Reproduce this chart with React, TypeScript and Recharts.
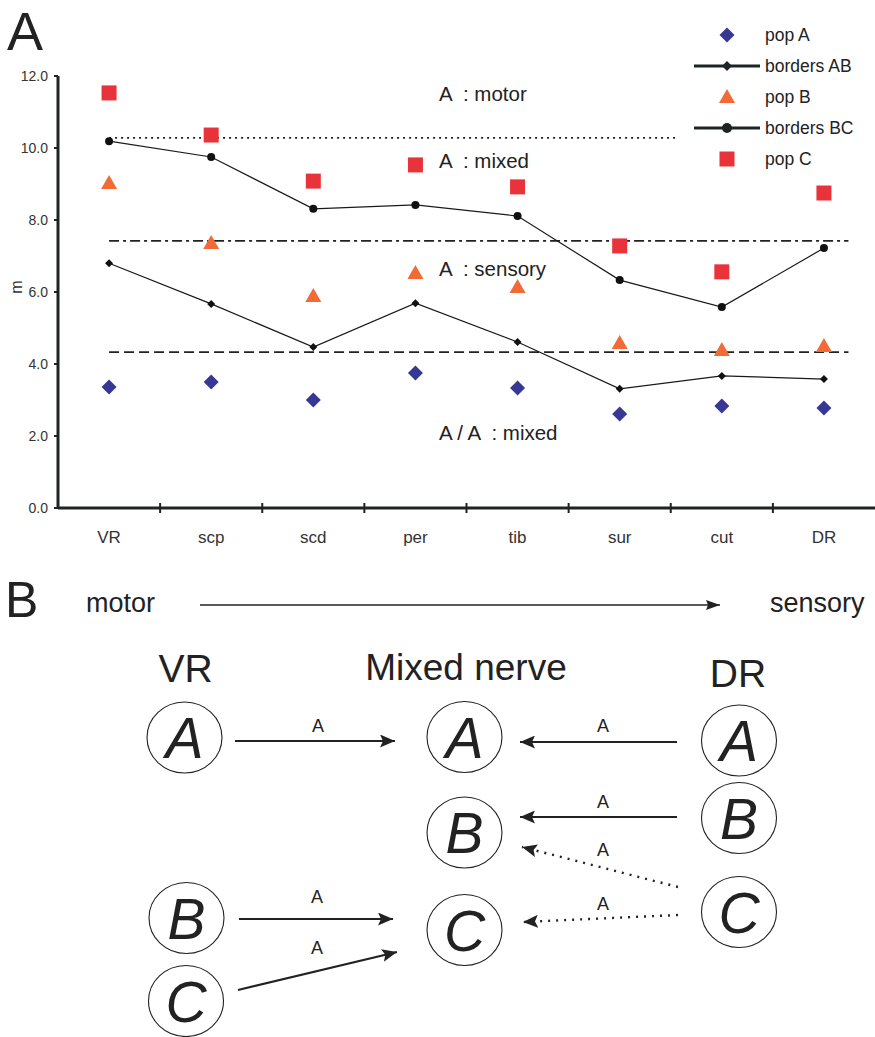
import React from "react";
import { ComposedChart, Line, Scatter, XAxis, YAxis, ReferenceLine } from "recharts";

// ---------- Panel A data ----------
const CATEGORIES = ["VR", "scp", "scd", "per", "tib", "sur", "cut", "DR"];
const POP_A = [3.36, 3.5, 3.0, 3.75, 3.33, 2.61, 2.83, 2.78];
const POP_B = [9.03, 7.36, 5.89, 6.53, 6.14, 4.58, 4.39, 4.5];
const POP_C = [11.53, 10.36, 9.08, 9.53, 8.92, 7.28, 6.56, 8.75];
const BORDERS_AB = [6.8, 5.67, 4.47, 5.69, 4.61, 3.31, 3.67, 3.58];
const BORDERS_BC = [10.19, 9.75, 8.31, 8.42, 8.11, 6.33, 5.58, 7.22];
const Y_TICKS = [0, 2, 4, 6, 8, 10, 12];
const X_TICKS = [0, 0.5, 1, 1.5, 2, 2.5, 3, 3.5, 4, 4.5, 5, 5.5, 6, 6.5, 7];
// threshold lines: value, start index, end index
const THRESH_MOTOR = [10.28, 0, 5.56];
const THRESH_SENSORY = [7.42, 0, 7.24];
const THRESH_MIXED = [4.33, 0, 7.24];
const ANNOTATIONS = ["A  : motor", "A  : mixed", "A  : sensory", "A / A  : mixed"];
const LEGEND_LABELS = ["pop A", "borders AB", "pop B", "borders BC", "pop C"];

const rows = CATEGORIES.map((c, i) => ({
  x: i,
  name: c,
  popA: POP_A[i],
  popB: POP_B[i],
  popC: POP_C[i],
  ab: BORDERS_AB[i],
  bc: BORDERS_BC[i],
}));

// ---------- Panel B diagram ----------
const B_COLUMNS = ["VR", "Mixed nerve", "DR"];
const B_NODES = [
  { letter: "A", cx: 184.5, cy: 737.5 },
  { letter: "B", cx: 186.5, cy: 918 },
  { letter: "C", cx: 186, cy: 1001 },
  { letter: "A", cx: 464.5, cy: 737 },
  { letter: "B", cx: 464.5, cy: 832.5 },
  { letter: "C", cx: 464.5, cy: 930 },
  { letter: "A", cx: 739, cy: 740.5 },
  { letter: "B", cx: 739, cy: 818 },
  { letter: "C", cx: 739, cy: 912 },
];
const B_ARROWS = [
  { x1: 235, y1: 741, x2: 395, y2: 741, dotted: false, lx: 318, ly: 725 },
  { x1: 677, y1: 742, x2: 520, y2: 742, dotted: false, lx: 603, ly: 725 },
  { x1: 677, y1: 817, x2: 520, y2: 817, dotted: false, lx: 603, ly: 801 },
  { x1: 678, y1: 887, x2: 522, y2: 847, dotted: true, lx: 603, ly: 849 },
  { x1: 678, y1: 915, x2: 523, y2: 922, dotted: true, lx: 603, ly: 903 },
  { x1: 239, y1: 919, x2: 393, y2: 919, dotted: false, lx: 317, ly: 896 },
  { x1: 238, y1: 990, x2: 397, y2: 952, dotted: false, lx: 317, ly: 947 },
];

const FONT = "'Liberation Sans', Arial, Helvetica, sans-serif";
const INK = "#222222";
const AXIS = "#1c2424";
const BLUE = "#363894";
const ORANGE = "#f26b36";
const RED = "#e8333a";

const Diamond = ({ cx, cy, r, fill }: any) => (
  <polygon points={`${cx},${cy - r} ${cx + r},${cy} ${cx},${cy + r} ${cx - r},${cy}`} fill={fill} />
);
const Triangle = ({ cx, cy, fill }: any) => (
  <polygon points={`${cx},${cy - 8} ${cx + 8},${cy + 6} ${cx - 8},${cy + 6}`} fill={fill} />
);
const Square = ({ cx, cy, fill }: any) => (
  <rect x={cx - 7.5} y={cy - 7.5} width={15} height={15} fill={fill} />
);

const XTick = (props: any) => {
  const { x, y, payload } = props;
  const v = payload.value;
  if (Number.isInteger(v)) {
    return (
      <text x={x} y={y + 35} textAnchor="middle" fontSize={17} fontFamily={FONT} fill="#333">
        {CATEGORIES[v]}
      </text>
    );
  }
  return <line x1={x} x2={x} y1={y - 5} y2={y + 5} stroke={AXIS} strokeWidth={2} />;
};

export default function App() {
  const legendRows = [
    { label: LEGEND_LABELS[0], kind: "diamond" },
    { label: LEGEND_LABELS[1], kind: "lineDiamond" },
    { label: LEGEND_LABELS[2], kind: "triangle" },
    { label: LEGEND_LABELS[3], kind: "lineCircle" },
    { label: LEGEND_LABELS[4], kind: "square" },
  ];
  const legendY = [35, 66, 97, 128, 159];
  const annY = [100.5, 168, 275.5, 439.5];
  const colX = [185.5, 466, 738];
  const colBase = [682, 680, 687];

  return (
    <div style={{ position: "absolute", left: 0, top: 0, width: 875, height: 1037, background: "#fff" }}>
      <div style={{ position: "absolute", left: 0, top: 0 }}>
        <ComposedChart
          width={875}
          height={560}
          data={rows}
          margin={{ top: 76, right: 0, bottom: 12, left: 8 }}
        >
          <XAxis
            dataKey="x"
            type="number"
            domain={[-0.5, 7.5]}
            ticks={X_TICKS}
            interval={0}
            tickLine={false}
            tickSize={0}
            tickMargin={0}
            tick={<XTick />}
            axisLine={{ stroke: AXIS, strokeWidth: 3 }}
            height={40}
            allowDataOverflow
          />
          <YAxis
            type="number"
            domain={[0, 12]}
            ticks={Y_TICKS}
            width={50}
            tickFormatter={(v: number) => v.toFixed(1)}
            tick={{ fontSize: 14, fontFamily: FONT, fill: "#333" }}
            tickSize={4}
            tickMargin={6}
            tickLine={{ stroke: AXIS, strokeWidth: 2 }}
            axisLine={{ stroke: AXIS, strokeWidth: 3 }}
            allowDataOverflow
          />
          <ReferenceLine
            segment={[{ x: THRESH_MOTOR[1], y: THRESH_MOTOR[0] }, { x: THRESH_MOTOR[2], y: THRESH_MOTOR[0] }]}
            stroke={INK}
            strokeWidth={1.6}
            strokeDasharray="2 4"
          />
          <ReferenceLine
            segment={[{ x: THRESH_SENSORY[1], y: THRESH_SENSORY[0] }, { x: THRESH_SENSORY[2], y: THRESH_SENSORY[0] }]}
            stroke={INK}
            strokeWidth={1.6}
            strokeDasharray="10 4 3 4"
          />
          <ReferenceLine
            segment={[{ x: THRESH_MIXED[1], y: THRESH_MIXED[0] }, { x: THRESH_MIXED[2], y: THRESH_MIXED[0] }]}
            stroke={INK}
            strokeWidth={1.6}
            strokeDasharray="10 5"
          />
          <Line
            dataKey="ab"
            stroke="#1a1a1a"
            strokeWidth={1.2}
            isAnimationActive={false}
            dot={(p: any) => <Diamond key={`ab${p.index}`} cx={p.cx} cy={p.cy} r={4} fill="#111" />}
            activeDot={false}
          />
          <Line
            dataKey="bc"
            stroke="#1a1a1a"
            strokeWidth={1.2}
            isAnimationActive={false}
            dot={(p: any) => <circle key={`bc${p.index}`} cx={p.cx} cy={p.cy} r={4} fill="#111" />}
            activeDot={false}
          />
          <Scatter dataKey="popA" isAnimationActive={false} shape={(p: any) => <Diamond cx={p.cx} cy={p.cy} r={7.5} fill={BLUE} />} />
          <Scatter dataKey="popB" isAnimationActive={false} shape={(p: any) => <Triangle cx={p.cx} cy={p.cy} fill={ORANGE} />} />
          <Scatter dataKey="popC" isAnimationActive={false} shape={(p: any) => <Square cx={p.cx} cy={p.cy} fill={RED} />} />
        </ComposedChart>
      </div>

      <svg
        width={875}
        height={1037}
        style={{ position: "absolute", left: 0, top: 0, pointerEvents: "none" }}
        fontFamily={FONT}
      >
        <defs>
          <marker id="head" viewBox="0 0 15 13" refX={15} refY={6.5} markerWidth={15} markerHeight={13} markerUnits="userSpaceOnUse" orient="auto">
            <path d="M0,0 L15,6.5 L0,13 L3,6.5 z" fill={INK} />
          </marker>
          <marker id="headSmall" viewBox="0 0 14 10" refX={14} refY={5} markerWidth={14} markerHeight={10} markerUnits="userSpaceOnUse" orient="auto">
            <path d="M0,0 L14,5 L0,10 L2,5 z" fill={INK} />
          </marker>
        </defs>

        {/* Panel label A */}
        <text x={7} y={50} fontSize={54} fill={INK}>A</text>

        {/* y-axis title */}
        <text transform="translate(22,287) rotate(-90)" textAnchor="middle" fontSize={16} fill="#333">m</text>

        {/* in-plot annotations */}
        {ANNOTATIONS.map((t, i) => (
          <text key={t + i} x={439} y={annY[i]} fontSize={20.5} fill={INK} style={{ whiteSpace: "pre" }} xmlSpace="preserve">
            {t}
          </text>
        ))}

        {/* legend */}
        {legendRows.map((r, i) => {
          const cy = legendY[i];
          const cx = 727;
          let icon = null;
          if (r.kind === "diamond") icon = <Diamond cx={cx} cy={cy} r={7.5} fill={BLUE} />;
          if (r.kind === "triangle") icon = <Triangle cx={cx} cy={cy} fill={ORANGE} />;
          if (r.kind === "square") icon = <Square cx={cx} cy={cy} fill={RED} />;
          if (r.kind === "lineDiamond")
            icon = (
              <g>
                <line x1={694} x2={760} y1={cy} y2={cy} stroke={AXIS} strokeWidth={3} />
                <Diamond cx={cx} cy={cy} r={5} fill={AXIS} />
              </g>
            );
          if (r.kind === "lineCircle")
            icon = (
              <g>
                <line x1={694} x2={760} y1={cy} y2={cy} stroke={AXIS} strokeWidth={3} />
                <circle cx={cx} cy={cy} r={5} fill={AXIS} />
              </g>
            );
          return (
            <g key={r.label}>
              {icon}
              <text x={765} y={cy + 6} fontSize={17.5} fill={INK}>{r.label}</text>
            </g>
          );
        })}

        {/* Panel B */}
        <text x={5} y={617} fontSize={50} fill={INK}>B</text>
        <text x={86} y={612} fontSize={27} fill={INK}>motor</text>
        <line x1={200} y1={605} x2={720} y2={605} stroke={INK} strokeWidth={1.6} markerEnd="url(#headSmall)" />
        <text x={770} y={612} fontSize={27} fill={INK}>sensory</text>

        {B_COLUMNS.map((c, i) => (
          <text key={c} x={colX[i]} y={colBase[i]} textAnchor="middle" fontSize={i === 1 ? 37 : 39} fill={INK}>
            {c}
          </text>
        ))}

        {B_NODES.map((n, i) => (
          <g key={i}>
            <ellipse cx={n.cx} cy={n.cy} rx={37.5} ry={35.5} fill="none" stroke={INK} strokeWidth={1.1} />
            <text x={n.cx} y={n.cy + 20.5} textAnchor="middle" fontSize={57} fontStyle="italic" fill={INK}>
              {n.letter}
            </text>
          </g>
        ))}

        {B_ARROWS.map((a, i) => (
          <g key={i}>
            <line
              x1={a.x1}
              y1={a.y1}
              x2={a.x2}
              y2={a.y2}
              stroke={INK}
              strokeWidth={a.dotted ? 2.4 : 2.2}
              strokeDasharray={a.dotted ? "2 6" : undefined}
              markerEnd="url(#head)"
            />
            <text x={a.lx} y={a.ly + 6.5} textAnchor="middle" fontSize={18} fill={INK}>A</text>
          </g>
        ))}
      </svg>
    </div>
  );
}
